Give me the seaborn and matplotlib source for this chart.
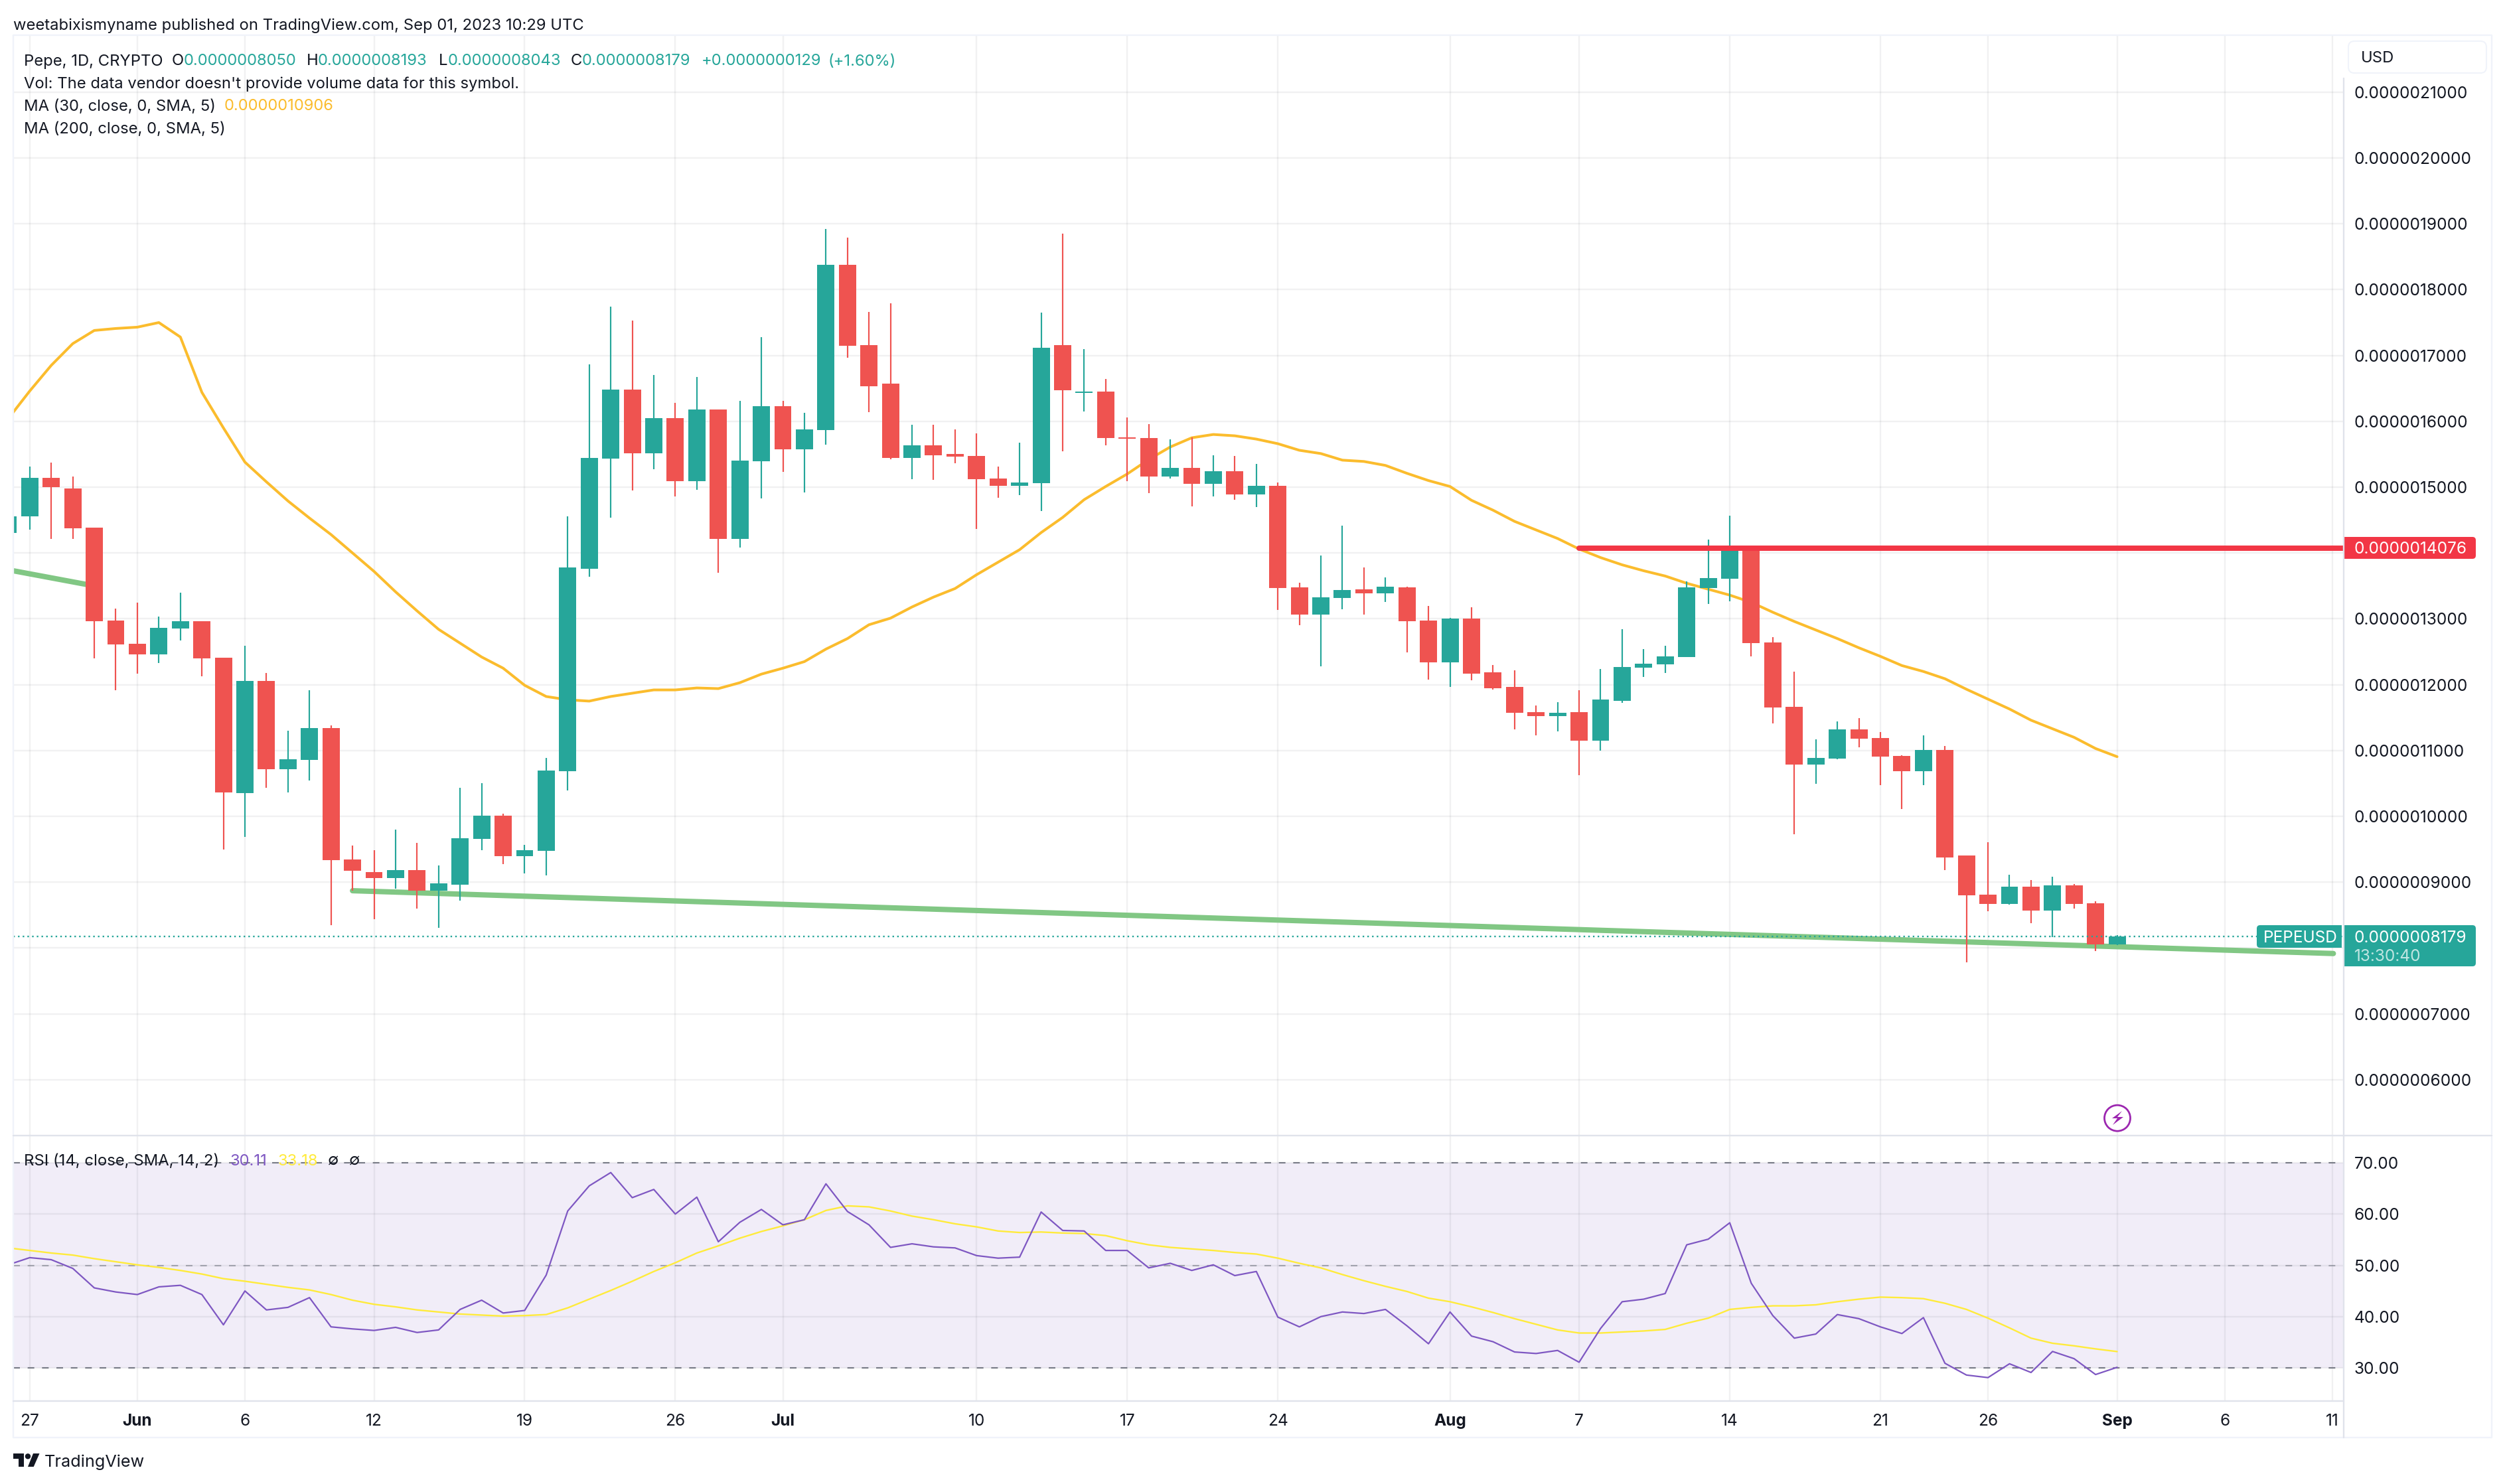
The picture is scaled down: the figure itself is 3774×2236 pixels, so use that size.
import matplotlib
matplotlib.use('Agg')
import matplotlib.pyplot as plt
from matplotlib.patches import Rectangle, Circle, Polygon, FancyBboxPatch
import seaborn as sns

# Pepe daily candles, prices in units of 1e-7 USD, first entry is the cut-off bar left of 27 May
days = list(range(-1, 98))
open_px = [14.30, 14.56, 15.14, 14.98, 14.38, 12.97, 12.62, 12.46, 12.85, 12.96, 12.41, 10.35, 12.06, 10.72, 10.86,
           11.34, 9.34, 9.15, 9.06, 9.18, 8.87, 8.96, 9.66, 10.01, 9.39, 9.48, 10.69, 13.76, 15.43, 16.48,
           15.51, 16.05, 15.09, 16.18, 14.21, 15.39, 16.23, 15.57, 15.87, 18.38, 17.16, 16.57, 15.44, 15.64, 15.50,
           15.47, 15.13, 15.02, 15.06, 17.16, 16.43, 16.45, 15.76, 15.75, 15.16, 15.29, 15.05, 15.24, 14.89, 15.02,
           13.48, 13.06, 13.32, 13.45, 13.39, 13.48, 12.97, 12.34, 13.00, 12.19, 11.97, 11.58, 11.52, 11.58, 11.15,
           11.75, 12.26, 12.31, 12.42, 13.47, 13.61, 14.08, 12.64, 11.66, 10.79, 10.88, 11.32, 11.19, 10.92, 10.69,
           11.01, 9.41, 8.81, 8.67, 8.93, 8.57, 8.95, 8.68, 8.050]
high_px = [14.56, 15.31, 15.37, 15.16, 14.39, 13.16, 13.25, 13.03, 13.40, 12.96, 12.41, 12.59, 12.18, 11.30, 11.92,
           11.38, 9.56, 9.49, 9.80, 9.60, 9.25, 10.43, 10.50, 10.04, 9.57, 10.89, 14.56, 16.86, 17.74, 17.53,
           16.70, 16.28, 16.67, 16.18, 16.31, 17.28, 16.31, 16.13, 18.92, 18.79, 17.66, 17.79, 15.95, 15.95, 15.88,
           15.82, 15.31, 15.68, 17.65, 18.85, 17.10, 16.64, 16.06, 15.96, 15.73, 15.76, 15.48, 15.47, 15.35, 15.07,
           13.55, 13.96, 14.42, 13.78, 13.63, 13.49, 13.20, 13.01, 13.18, 12.30, 12.22, 11.68, 11.73, 11.92, 12.24,
           12.84, 12.54, 12.59, 13.57, 14.20, 14.57, 14.10, 12.72, 12.20, 11.17, 11.44, 11.49, 11.28, 10.93, 11.23,
           11.07, 9.41, 9.61, 9.11, 9.03, 9.08, 8.97, 8.71, 8.193]
low_px = [14.30, 14.35, 14.21, 14.21, 12.40, 11.92, 12.17, 12.33, 12.67, 12.13, 9.50, 9.69, 10.43, 10.36, 10.54,
          8.35, 8.87, 8.44, 8.90, 8.60, 8.31, 8.72, 9.49, 9.27, 9.13, 9.10, 10.39, 13.64, 14.54, 14.95,
          15.27, 14.86, 14.96, 13.70, 14.08, 14.83, 15.23, 14.92, 15.65, 16.97, 16.14, 15.42, 15.12, 15.11, 15.36,
          14.36, 14.84, 14.88, 14.64, 15.54, 16.15, 15.64, 15.09, 14.91, 15.13, 14.71, 14.86, 14.81, 14.70, 13.14,
          12.90, 12.28, 13.15, 13.06, 13.26, 12.49, 12.08, 11.97, 12.07, 11.93, 11.32, 11.23, 11.29, 10.62, 11.00,
          11.72, 12.12, 12.18, 12.42, 13.23, 13.27, 12.43, 11.41, 9.73, 10.49, 10.87, 11.05, 10.47, 10.11, 10.47,
          9.18, 7.78, 8.56, 8.66, 8.38, 8.17, 8.60, 7.95, 8.043]
close_px = [14.56, 15.14, 15.00, 14.37, 12.96, 12.61, 12.46, 12.86, 12.96, 12.40, 10.36, 12.06, 10.72, 10.87, 11.34,
            9.33, 9.17, 9.06, 9.18, 8.87, 8.98, 9.67, 10.01, 9.39, 9.49, 10.70, 13.78, 15.44, 16.48, 15.51,
            16.05, 15.09, 16.18, 14.21, 15.40, 16.23, 15.57, 15.88, 18.38, 17.15, 16.53, 15.44, 15.64, 15.48, 15.46,
            15.12, 15.02, 15.07, 17.12, 16.47, 16.45, 15.75, 15.74, 15.16, 15.29, 15.05, 15.24, 14.89, 15.02, 13.47,
            13.06, 13.33, 13.44, 13.39, 13.49, 12.96, 12.34, 13.00, 12.17, 11.95, 11.57, 11.52, 11.57, 11.15, 11.77,
            12.27, 12.32, 12.43, 13.48, 13.62, 14.08, 12.63, 11.65, 10.79, 10.89, 11.32, 11.18, 10.91, 10.69, 11.01,
            9.37, 8.80, 8.67, 8.93, 8.57, 8.95, 8.67, 8.05, 8.179]

ma30 = [16.04, 16.46, 16.85, 17.18, 17.38, 17.41, 17.43, 17.50, 17.28, 16.44, 15.90, 15.38, 15.08, 14.79, 14.53,
        14.28, 14.00, 13.72, 13.41, 13.12, 12.84, 12.63, 12.42, 12.25, 11.99, 11.82, 11.77, 11.75, 11.82, 11.87,
        11.92, 11.92, 11.95, 11.94, 12.03, 12.16, 12.25, 12.35, 12.54, 12.70, 12.91, 13.01, 13.18, 13.33, 13.46,
        13.67, 13.86, 14.05, 14.31, 14.54, 14.81, 15.01, 15.20, 15.42, 15.61, 15.75, 15.80, 15.78, 15.73, 15.66,
        15.56, 15.51, 15.41, 15.39, 15.33, 15.21, 15.10, 15.01, 14.80, 14.65, 14.48, 14.35, 14.22, 14.06, 13.93,
        13.82, 13.73, 13.65, 13.54, 13.45, 13.36, 13.25, 13.10, 12.96, 12.83, 12.70, 12.56, 12.43, 12.29, 12.20,
        12.09, 11.93, 11.78, 11.63, 11.46, 11.33, 11.20, 11.03, 10.906]

rsi = [50.1, 51.5, 51.1, 49.4, 45.6, 44.8, 44.3, 45.8, 46.1, 44.3, 38.4, 45.0, 41.3, 41.8, 43.7,
       38.0, 37.6, 37.3, 37.9, 36.9, 37.4, 41.4, 43.2, 40.7, 41.2, 48.1, 60.6, 65.5, 68.1, 63.2,
       64.8, 60.0, 63.3, 54.6, 58.4, 60.9, 57.9, 58.9, 65.9, 60.5, 57.9, 53.5, 54.2, 53.6, 53.4,
       51.9, 51.4, 51.6, 60.4, 56.8, 56.7, 52.9, 52.9, 49.5, 50.4, 49.0, 50.1, 48.0, 48.8, 39.9,
       38.0, 40.0, 40.9, 40.6, 41.4, 38.2, 34.7, 40.9, 36.2, 35.1, 33.1, 32.8, 33.4, 31.1, 37.7,
       42.9, 43.4, 44.5, 54.0, 55.1, 58.3, 46.5, 40.2, 35.8, 36.6, 40.4, 39.6, 38.0, 36.7, 39.8,
       30.9, 28.6, 28.1, 30.8, 29.1, 33.2, 31.8, 28.7, 30.11]
rsi_sma = [53.4, 52.9, 52.4, 52.0, 51.3, 50.7, 50.1, 49.6, 49.0, 48.3, 47.4, 46.9, 46.3, 45.7, 45.2,
           44.3, 43.2, 42.4, 41.9, 41.3, 40.9, 40.5, 40.3, 40.1, 40.2, 40.4, 41.7, 43.4, 45.1, 46.9,
           48.8, 50.5, 52.4, 53.8, 55.3, 56.6, 57.7, 58.9, 60.7, 61.6, 61.4, 60.6, 59.6, 58.9, 58.1,
           57.5, 56.7, 56.4, 56.5, 56.3, 56.2, 55.8, 54.8, 54.0, 53.5, 53.2, 52.9, 52.5, 52.2, 51.4,
           50.4, 49.5, 48.2, 47.0, 45.9, 44.9, 43.6, 42.9, 41.9, 40.8, 39.6, 38.5, 37.4, 36.8, 36.8,
           37.0, 37.2, 37.5, 38.7, 39.7, 41.4, 41.8, 42.1, 42.1, 42.3, 42.9, 43.4, 43.8, 43.7, 43.5,
           42.6, 41.4, 39.7, 37.8, 35.8, 34.8, 34.3, 33.7, 33.18]

# drawn trend lines
trend_left_x = [-0.77, 3.0]
trend_left_y = [13.73, 13.50]
trend_main_x = [15.0, 107.05]
trend_main_y = [8.87, 7.916]
resist_x = [72, 107.5]
resist_y = [14.076, 14.076]
last_price = 8.179

date_ticks = [0, 5, 10, 16, 23, 30, 35, 44, 51, 58, 66, 72, 79, 86, 91, 97, 102, 107]
date_labels = ['27', 'Jun', '6', '12', '19', '26', 'Jul', '10', '17', '24', 'Aug', '7', '14', '21', '26', 'Sep', '6', '11']
month_labels = ['Jun', 'Jul', 'Aug', 'Sep']
price_ticks = [6, 7, 8, 9, 10, 11, 12, 13, 14, 15, 16, 17, 18, 19, 20, 21]
price_labels = ['0.0000006000', '0.0000007000', '', '0.0000009000', '0.0000010000', '0.0000011000', '0.0000012000',
                '0.0000013000', '', '0.0000015000', '0.0000016000', '0.0000017000', '0.0000018000', '0.0000019000',
                '0.0000020000', '0.0000021000']
rsi_ticks = [30, 40, 50, 60, 70]
rsi_labels = ['30.00', '40.00', '50.00', '60.00', '70.00']

UP = '#26a69a'
DOWN = '#ef5350'
INK = '#131722'
PURPLE = '#7e57c2'
W, H = 3774, 2236
FS = 17.6
LEGEND_FS = 17.15

sns.set_theme(style='white')
plt.rcParams['font.family'] = ['Inter', 'DejaVu Sans']

fig = plt.figure(figsize=(W / 100, H / 100), dpi=100, facecolor='white')
ax = fig.add_axes([20 / W, 1 - 1711 / H, 3510 / W, 1658 / H])
ax_rsi = fig.add_axes([20 / W, 1 - 2111 / H, 3510 / W, 400 / H])

grid_kw = dict(color=INK, alpha=0.06, linewidth=1.7)

# candles
colors = [UP if c >= o else DOWN for o, c in zip(open_px, close_px)]
bottoms = [min(o, c) for o, c in zip(open_px, close_px)]
heights = [abs(c - o) for o, c in zip(open_px, close_px)]
ax.vlines(days, low_px, high_px, colors=colors, linewidth=1.55, zorder=3)
ax.bar(days, heights, bottom=bottoms, width=0.8, color=colors, linewidth=0, zorder=3)

sns.lineplot(x=trend_left_x, y=trend_left_y, ax=ax, color='#81c784', linewidth=5.8, zorder=2, solid_capstyle='round')
sns.lineplot(x=trend_main_x, y=trend_main_y, ax=ax, color='#81c784', linewidth=5.8, zorder=2, solid_capstyle='round')
sns.lineplot(x=days, y=ma30, ax=ax, color='#fbbc2d', linewidth=2.9, zorder=2.5)
sns.lineplot(x=resist_x, y=resist_y, ax=ax, color='#f23645', linewidth=5.8, zorder=4, solid_capstyle='round')
ax.axhline(last_price, color=UP, linewidth=1.7, linestyle=(0, (1, 2)), zorder=5)

ax.set_xlim(-0.765, 107.5)
ax.set_ylim(5.151, 21.865)
ax.set_xticks(date_ticks)
ax.set_xticklabels([])
ax.yaxis.tick_right()
ax.set_yticks(price_ticks)
ax.set_yticklabels(price_labels, fontsize=FS, color=INK)
ax.tick_params(axis='both', length=0)
ax.tick_params(axis='y', pad=12.2)
ax.grid(True, **grid_kw)
ax.set_axisbelow(True)
ax.set(xlabel=None, ylabel=None)

# RSI pane
ax_rsi.axhspan(30, 70, color=PURPLE, alpha=0.1, linewidth=0, zorder=0)
for level, alpha in [(70, 1), (50, 0.6), (30, 1)]:
    ax_rsi.axhline(level, color='#787b86', alpha=alpha, linewidth=1.5, linestyle=(0, (4.8, 5.6)), zorder=1)
sns.lineplot(x=days, y=rsi_sma, ax=ax_rsi, color='#ffeb3b', linewidth=1.7, zorder=2)
sns.lineplot(x=days, y=rsi, ax=ax_rsi, color=PURPLE, linewidth=1.6, zorder=2.5)

ax_rsi.set_xlim(-0.765, 107.5)
ax_rsi.set_ylim(23.53, 75.31)
ax_rsi.yaxis.tick_right()
ax_rsi.set_yticks(rsi_ticks)
ax_rsi.set_yticklabels(rsi_labels, fontsize=FS, color=INK)
ax_rsi.set_xticks(date_ticks)
ax_rsi.set_xticklabels(date_labels, fontsize=FS, color=INK)
for lab in ax_rsi.get_xticklabels():
    if lab.get_text() in month_labels:
        lab.set_fontweight('bold')
ax_rsi.tick_params(axis='both', length=0)
ax_rsi.tick_params(axis='y', pad=12.2)
ax_rsi.tick_params(axis='x', pad=14)
ax_rsi.grid(True, **grid_kw)
ax_rsi.set_axisbelow(True)
ax_rsi.set(xlabel=None, ylabel=None)

for a in (ax, ax_rsi):
    for spine in a.spines.values():
        spine.set_visible(False)

# overlay in picture pixels for the chrome around the chart
ov = fig.add_axes([0, 0, 1, 1], zorder=10)
ov.set_xlim(0, W)
ov.set_ylim(H, 0)
ov.axis('off')

ov.plot([20, 3754, 3754, 20, 20], [53, 53, 2166, 2166, 53], color='#f0f3fa', linewidth=1.7)
ov.plot([3531, 3531], [118, 2166], color='#e0e3eb', linewidth=1.7)
ov.plot([20, 3754], [1711, 1711], color='#e0e3eb', linewidth=1.7)
ov.plot([20, 3531], [2111, 2111], color='#e0e3eb', linewidth=1.7)


def label(x, y, text, color=INK, size=LEGEND_FS, **kw):
    ov.text(x, y, text, color=color, fontsize=size, va='center_baseline', ha='left', **kw)


def box(x0, y0, x1, y1, color):
    ov.add_patch(FancyBboxPatch((x0, y0), x1 - x0, y1 - y0, boxstyle='round,pad=0,rounding_size=5',
                                facecolor=color, edgecolor='none'))


label(20, 36, 'weetabixismyname published on TradingView.com, Sep 01, 2023 10:29 UTC')
label(36.5, 90, 'Pepe, 1D, CRYPTO')
for x, txt in [(258.7, 'O'), (462, 'H'), (661, 'L'), (860, 'C')]:
    label(x, 90, txt)
for x, txt in [(277, '0.0000008050'), (479, '0.0000008193'), (675, '0.0000008043'), (877, '0.0000008179'),
               (1057, '+0.0000000129'), (1248, '(+1.60%)')]:
    label(x, 90, txt, color=UP)
label(36.5, 124, "Vol: The data vendor doesn't provide volume data for this symbol.")
label(36.5, 158, 'MA (30, close, 0, SMA, 5)')
label(338, 158, '0.0000010906', color='#fbbc2d')
label(36.5, 192, 'MA (200, close, 0, SMA, 5)')
label(36.5, 1747, 'RSI (14, close, SMA, 14, 2)')
label(346.6, 1747, '30.11', color=PURPLE)
label(418, 1747, '33.18', color='#ffeb3b')
label(494, 1747, '∅')
label(526, 1747, '∅')

# USD button
ov.add_patch(FancyBboxPatch((3538, 62), 208, 48, boxstyle='round,pad=0,rounding_size=9',
                            facecolor='white', edgecolor='#f0f3fa', linewidth=1.5))
label(3557, 86, 'USD')

# price labels on the axis
box(3530, 809, 3730, 842, '#f23645')
ov.add_patch(Rectangle((3530, 809), 20, 33, facecolor='#f23645', edgecolor='none'))
label(3547, 825.5, '0.0000014076', color='white', size=FS)
box(3400, 1394, 3528, 1428, UP)
ov.add_patch(Rectangle((3500, 1394), 28, 34, facecolor=UP, edgecolor='none'))
label(3410, 1411, 'PEPEUSD', color='white', size=FS)
box(3530, 1394, 3730, 1456, UP)
ov.add_patch(Rectangle((3530, 1394), 20, 62, facecolor=UP, edgecolor='none'))
label(3547, 1411, '0.0000008179', color='white', size=FS)
label(3547, 1439, '13:30:40', color='#bfe5e1', size=FS)

# lightning badge
ov.add_patch(Circle((3190, 1684.7), 19.5, facecolor='white', edgecolor='#9c27b0', linewidth=2))
ov.add_patch(Polygon([(3197, 1674), (3182, 1685), (3190, 1685), (3183, 1695), (3199, 1683), (3190, 1683)],
                     facecolor='#9c27b0', edgecolor='none'))

# TradingView logo
ov.add_patch(Polygon([(20, 2190), (36, 2190), (36, 2210), (28, 2210), (28, 2198), (20, 2198)],
                     facecolor=INK, edgecolor='none'))
ov.add_patch(Circle((42, 2194.3), 4.2, facecolor=INK, edgecolor='none'))
ov.add_patch(Polygon([(50, 2190), (59.5, 2190), (50.7, 2210), (42, 2210)], facecolor=INK, edgecolor='none'))
label(67, 2201, 'TradingView', size=18.2)

fig.savefig('out.png', dpi=100)
